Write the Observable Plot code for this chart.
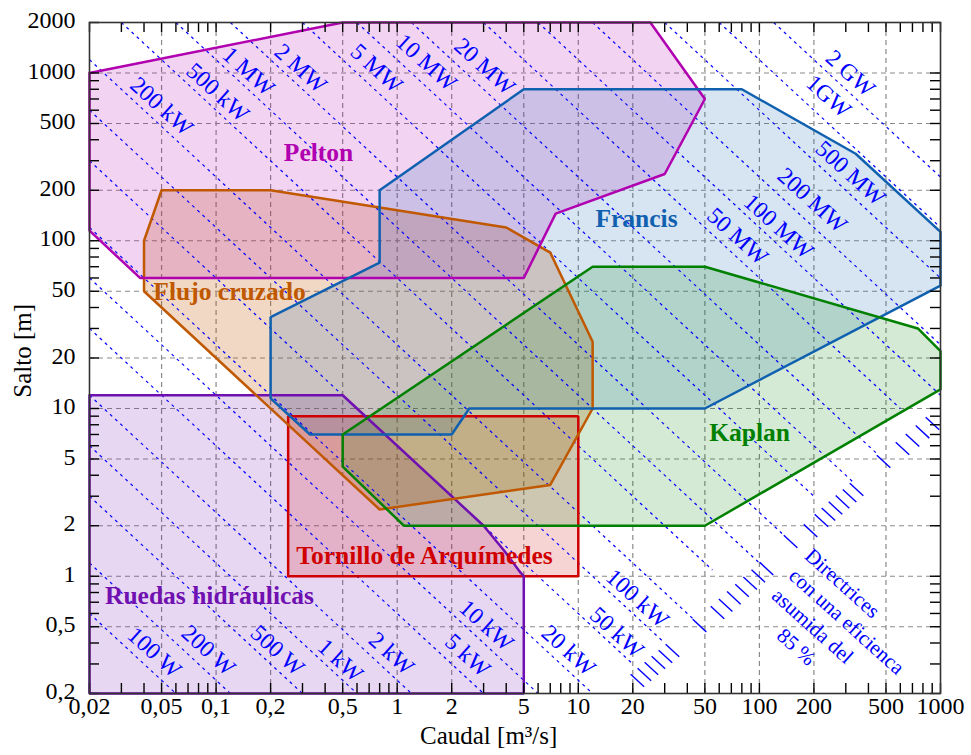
<!DOCTYPE html>
<html><head><meta charset="utf-8">
<script src="https://cdn.jsdelivr.net/npm/d3@7"></script>
<script src="https://cdn.jsdelivr.net/npm/@observablehq/plot@0.6"></script>
<style>html,body{margin:0;padding:0;background:#fff;}</style>
</head><body><div id="chart"></div>
<script>
// ---- axis ticks ----
const xLabelTicks = [0.02,0.05,0.1,0.2,0.5,1,2,5,10,20,50,100,200,500,1000];
const yLabelTicks = [0.2,0.5,1,2,5,10,20,50,100,200,500,1000,2000];
const xGridValues = [0.05,0.1,0.2,0.5,1,2,5,10,20,50,100,200,500];
const yGridValues = [0.5,1,2,5,10,20,50,100,200,500,1000];

// ---- turbine regions [caudal m3/s, salto m] ----
const peltonQ = [0.02,0.5,25,50,30,7.5,5,0.038,0.02,0.02];
const peltonH = [1000,2000,2000,700,250,145,60,60,115,1000];
const francisQ = [0.8,5,80,340,1000,1000,50,2.5,2,0.33,0.2,0.2,0.8,0.8];
const francisH = [200,800,800,330,113,54,10,10,7,7,11.5,35,74,200];
const flujoQ = [0.05,0.2,4,7,12,12,7,0.8,0.04,0.04,0.05];
const flujoH = [200,200,120,85,25,10,3.5,2.5,50,100,200];
const kaplanQ = [0.5,12,50,750,1000,1000,50,1.09,0.5,0.5];
const kaplanH = [7,70,70,30,22,13,2,2,4.5,7];
const ruedasQ = [0.02,0.5,3,3.9,4.8,5,5,0.02,0.02];
const ruedasH = [12,12,2,1.42,1.05,1,0.2,0.2,12];
const tornilloQ = [0.25,0.25,10,10,0.25];
const tornilloH = [1,9,9,1,1];

// ---- region labels ----
const regionNames = ["Pelton","Francis","Flujo cruzado","Kaplan","Tornillo de Arquímedes","Ruedas hidráulicas"];
const regionLabelQ = [0.368,20.96,0.1186,88.2,1.415,0.092];
const regionLabelH = [336,135.7,49.8,7.19,1.33,0.768];
const regionColors = ["#b000b0","#1060b0","#c05800","#008000","#d00000","#7010b0"];

// ---- power guide lines (85 % efficiency) ----
const powers = [100,200,500,1e3,2e3,5e3,1e4,2e4,5e4,1e5,2e5,5e5,1e6,2e6,5e6,1e7,2e7,5e7,1e8,2e8,5e8,1e9,2e9];
const powerEndQ = [null,null,null,null,null,null,null,null,20,30,43,55,100,138,200,330,450,600,null,null,null,null,null];
const powerLabels = ["100 W","200 W","500 W","1 kW","2 kW","5 kW","10 kW","20 kW","50 kW","100 kW","200 kW","500 kW","1 MW","2 MW","5 MW","10 MW","20 MW","50 MW","100 MW","200 MW","500 MW","1GW","2 GW"];
const powerLabelQ = [0.0457,0.0908,0.218,0.486,0.930,2.45,3.11,8.83,16.3,21.2,0.050,0.102,0.151,0.293,0.769,1.45,3.04,75.7,127.5,196,318,241,318];
const powerLabelH = [0.351,0.361,0.361,0.315,0.346,0.337,0.509,0.361,0.462,0.737,632,765,1021,1064,1064,1155,1093,106,121.6,174,252,724,993];

// short solid strokes near the lower-right note
const hatchQ = [21.2,23.17,25.33,27.69,30.28,33.1, 58.7,65.1,72.3,80.2,88.9,98.6,109.5, 220,240.6,263.1,287.7,314.6,344, 617,700.5,795.3,903, 46.7,148.6,191.6,485];
const hatchH = [0.239,0.2596,0.2818,0.306,0.3323,0.361, 0.608,0.672,0.743,0.822,0.908,1.004,1.11, 2.15,2.342,2.549,2.776,3.022,3.29, 5.77,6.471,7.259,8.14, 0.508,1.61,1.87,4.83];

const noteLines = ["Directrices","con una eficienca","asumida del","85 %"];
const noteQ = [185.6,151.4,122,130];
const noteH = [1.385,1.053,0.8,0.462];

// ---- build ----
const rho = 1000, g = 9.81, eta = 0.85;
const K = rho*g*eta;
const Qmin = 0.02, Qmax = 1000, Hmin = 0.2, Hmax = 2000;
const powerSegs = [];
powers.forEach((P,i) => {
  const k = P / K;
  const q0 = Math.max(Qmin, k / Hmax);
  let q1 = Math.min(Qmax, k / Hmin);
  if (powerEndQ[i] != null) q1 = Math.min(q1, powerEndQ[i]);
  powerSegs.push({x1:q0, y1:k/q0, x2:q1, y2:k/q1});
});
const minorX = [], minorY = [];
for (let e=-3;e<=3;e++) for (let d=1; d<=9; d++) {
  const v = +(d*Math.pow(10,e)).toPrecision(3);
  if (v>=Qmin-1e-12 && v<=Qmax+1e-9) minorX.push(v);
  if (v>=Hmin-1e-12 && v<=Hmax+1e-9) minorY.push(v);
}
const poly = (Q,H) => Q.map((q,i)=>({q, h:H[i]}));
const regions = [
  {pts: poly(ruedasQ,ruedasH), c: regionColors[5], o:0.17},
  {pts: poly(tornilloQ,tornilloH), c: regionColors[4], o:0.17},
  {pts: poly(flujoQ,flujoH), c: regionColors[2], o:0.23},
  {pts: poly(peltonQ,peltonH), c: regionColors[0], o:0.17},
  {pts: poly(francisQ,francisH), c: regionColors[1], o:0.17},
  {pts: poly(kaplanQ,kaplanH), c: regionColors[3], o:0.17}
];
const fmt = v => String(v).replace(".", ",");
const blue = "#0000ff";
const serif = "'Liberation Serif','Times New Roman',serif";
const fw = 851, fh = 671;
const hf = 1.09;

const marks = [];
marks.push(Plot.ruleX(xGridValues, {stroke:"#8a8a8a", strokeWidth:1.2, strokeDasharray:"5,4"}));
marks.push(Plot.ruleY(yGridValues, {stroke:"#8a8a8a", strokeWidth:1.2, strokeDasharray:"5,4"}));
regions.forEach(r => marks.push(Plot.line(r.pts, {x:"q", y:"h", fill:r.c, fillOpacity:r.o, stroke:"none"})));
marks.push(Plot.link(powerSegs, {x1:"x1", y1:"y1", x2:"x2", y2:"y2", stroke:blue, strokeWidth:1.2, strokeDasharray:"3,4"}));
marks.push(Plot.link(hatchQ, {x1:(d,i)=>hatchQ[i]/hf, y1:(d,i)=>hatchH[i]*hf, x2:(d,i)=>hatchQ[i]*hf, y2:(d,i)=>hatchH[i]/hf, stroke:blue, strokeWidth:1.4}));
[1,0,2,3,4,5].forEach(j => { const r = regions[j]; marks.push(Plot.line(r.pts, {x:"q", y:"h", stroke:r.c, strokeWidth:2.5, strokeLinejoin:"miter"})); });
marks.push(Plot.tickX(minorX, {x:d=>d, insetTop: fh-10, stroke:"#000", strokeWidth:1.4}));
marks.push(Plot.tickX(minorX, {x:d=>d, insetBottom: fh-10, stroke:"#000", strokeWidth:1.4}));
marks.push(Plot.tickY(minorY, {y:d=>d, insetRight: fw-10, stroke:"#000", strokeWidth:1.4}));
marks.push(Plot.tickY(minorY, {y:d=>d, insetLeft: fw-10, stroke:"#000", strokeWidth:1.4}));
marks.push(Plot.frame({stroke:"#333", strokeWidth:1.6}));
// tick labels
marks.push(Plot.text(xLabelTicks, {x:d=>d, frameAnchor:"bottom", dy:20, text:fmt, fontSize:24, fontFamily:serif, fill:"#000"}));
marks.push(Plot.text(yLabelTicks, {y:d=>d, frameAnchor:"left", dx:-14, dy:-2, textAnchor:"end", text:fmt, fontSize:24, fontFamily:serif, fill:"#000"}));
marks.push(Plot.text(powers, {x:(d,i)=>powerLabelQ[i], y:(d,i)=>powerLabelH[i], text:(d,i)=>powerLabels[i], rotate:42, fill:blue, fontSize:23.5, fontFamily:serif}));
marks.push(Plot.text(regionNames, {x:(d,i)=>regionLabelQ[i], y:(d,i)=>regionLabelH[i], text:d=>d, fill:(d,i)=>regionColors[i], fontSize:25.5, fontWeight:"bold", fontFamily:serif}));
marks.push(Plot.text(noteLines, {x:(d,i)=>noteQ[i], y:(d,i)=>noteH[i], text:d=>d, rotate:42, textAnchor:"start", fill:blue, fontSize:21, fontFamily:serif}));
marks.push(Plot.text(["Caudal [m³/s]"], {x:()=>3.2, frameAnchor:"bottom", dy:50, text:d=>d, fontSize:25, fontFamily:serif, fill:"#000"}));
marks.push(Plot.text(["Salto [m]"], {y:()=>11.6, frameAnchor:"left", dx:-67, rotate:-90, text:d=>d, fontSize:25, fontFamily:serif, fill:"#000"}));

const chart = Plot.plot({
  width: 971, height: 755,
  marginLeft: 89, marginRight: 31, marginTop: 22, marginBottom: 62,
  style: {fontFamily: serif, fontSize:"24px", background:"#fff", color:"#000"},
  x: {type:"log", domain:[Qmin,Qmax], axis:null},
  y: {type:"log", domain:[Hmin,Hmax], axis:null},
  marks
});
document.getElementById("chart").appendChild(chart);
</script>
</body></html>
